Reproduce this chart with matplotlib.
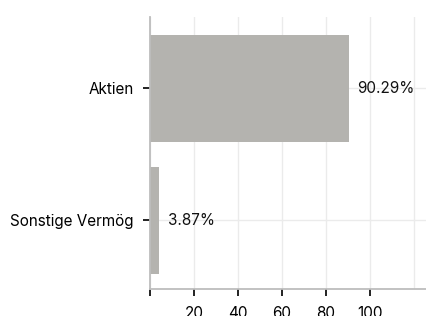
import matplotlib.pyplot as plt

# Daten
kategorien = ["Sonstige Vermög", "Aktien"]
anteile = [3.87, 90.29]
x_ticks = [0, 20, 40, 60, 80, 100]
x_labels = ["", "20", "40", "60", "80", "100"]

plt.rcParams['font.family'] = ['Inter', 'DejaVu Sans']

fig = plt.figure(figsize=(4.27, 3.16), dpi=100)
ax = fig.add_axes([0.352, 0.085, 0.648, 0.861])

pos = range(len(kategorien))
ax.barh(pos, anteile, height=0.81, color="#b4b3af", zorder=2)

for p, v in zip(pos, anteile):
    ax.annotate(f"{v:.2f}%", (v, p), xytext=(6.5, 0), textcoords="offset points",
                va="center", ha="left", fontsize=11, color="#111111")

ax.set_yticks(list(pos))
ax.set_yticklabels(kategorien, fontsize=11)
ax.set_xticks(x_ticks)
ax.set_xticklabels(x_labels, fontsize=11)
ax.set_xticks([120], minor=True)
ax.set_xlim(0, 126)
ax.set_ylim(-0.52, 1.54)

ax.grid(True, which="both", color="#ebebeb", linewidth=1, zorder=0)
ax.tick_params(axis="both", length=5, width=1.3, color="#111111", pad=7)
ax.tick_params(axis="x", which="minor", length=0)
for s in ["top", "right"]:
    ax.spines[s].set_visible(False)
for s in ["left", "bottom"]:
    ax.spines[s].set_color("#bdbdbd")
    ax.spines[s].set_linewidth(1.3)

fig.savefig("out.png", dpi=100)
